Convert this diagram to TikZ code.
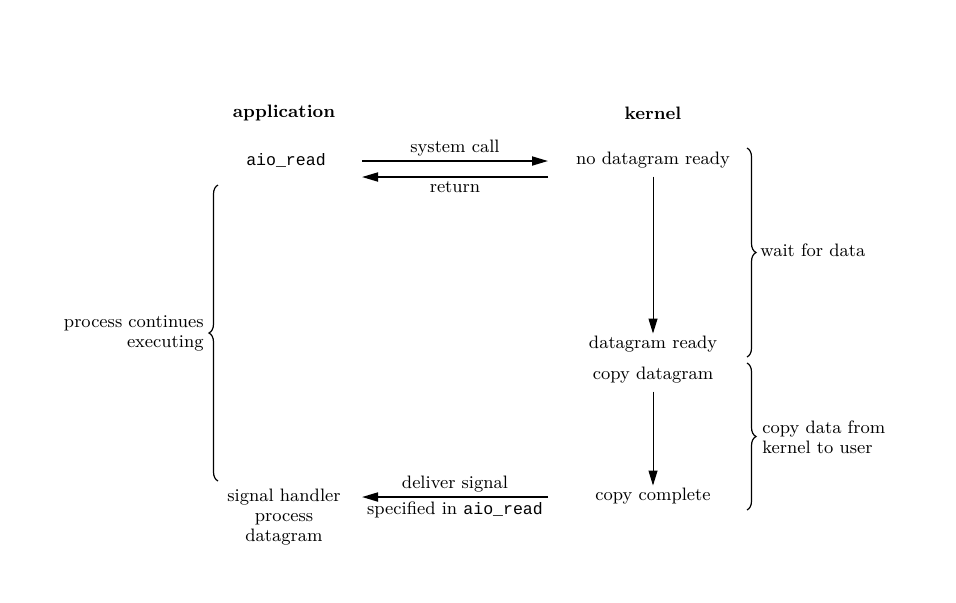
\documentclass[tikz,border=0pt]{standalone}
\usepackage{fontspec}
\setmonofont[Scale=0.92]{Liberation Mono}
\usepackage{tikz}
\usetikzlibrary{arrows.meta,positioning,decorations.pathreplacing}

\begin{document}
\begin{tikzpicture}[
    x=0.5pt, y=-0.5pt,
    label/.style={font=\small, inner sep=1pt, align=center},
    head/.style={font=\small\bfseries, inner sep=1pt},
    call/.style={-{Triangle[length=8pt,width=4.5pt]}, line width=0.9pt},
    flow/.style={-{Triangle[length=7.5pt,width=4.5pt]}, line width=0.5pt},
    brace/.style={decorate, decoration={brace, amplitude=4.5pt}, line width=0.6pt},
]
    \useasboundingbox (0,0) rectangle (956,602);

    % Column heads
    \node[head] (app) at (284,113) {application};
    \node[head] (kern) at (653,113) {kernel};

    % Application side
    \node[label, font=\small\ttfamily] (aio) at (286,160) {aio\_read};
    \node[label] (handler) at (284,517) {signal handler\\[-1pt]process\\[-1pt]datagram};
    \node[label, align=right, anchor=east] (cont) at (206,333) {process continues\\[-1pt]executing};

    % Kernel side
    \node[label] (nodr) at (653,160) {no datagram ready};
    \node[label] (dgready) at (653,344) {datagram ready};
    \node[label] (copydg) at (653,375) {copy datagram};
    \node[label] (copydone) at (653,496) {copy complete};
    \node[label, anchor=west] (wait) at (758,250) {wait for data};
    \node[label, align=left, anchor=west] (copyk) at (760,437) {copy data from\\[-1pt]kernel to user};

    % Arrow ends
    \coordinate (callL) at (362,161);
    \coordinate (callR) at (548,161);
    \coordinate (retL) at (362,177);
    \coordinate (retR) at (548,177);
    \coordinate (sigL) at (362,497);
    \coordinate (sigR) at (548,497);

    % Arrows
    \draw[call] (callL) -- node[label, above=1pt] {system call} (callR);
    \draw[call] (retR) -- node[label, below=1pt] {return} (retL);
    \draw[call] (sigR) -- node[label, above=1pt] {deliver signal}
        node[label, below=1pt] {specified in \texttt{aio\_read}} (sigL);
    \draw[flow] (nodr.south) ++(0,6) -- (dgready.north);
    \draw[flow] (copydg.south) ++(0,6) -- (copydone.north);

    % Braces
    \draw[brace] (218,481) -- (218,185);
    \draw[brace] (747,148) -- (747,357);
    \draw[brace] (747,363) -- (747,510);
\end{tikzpicture}
\end{document}
